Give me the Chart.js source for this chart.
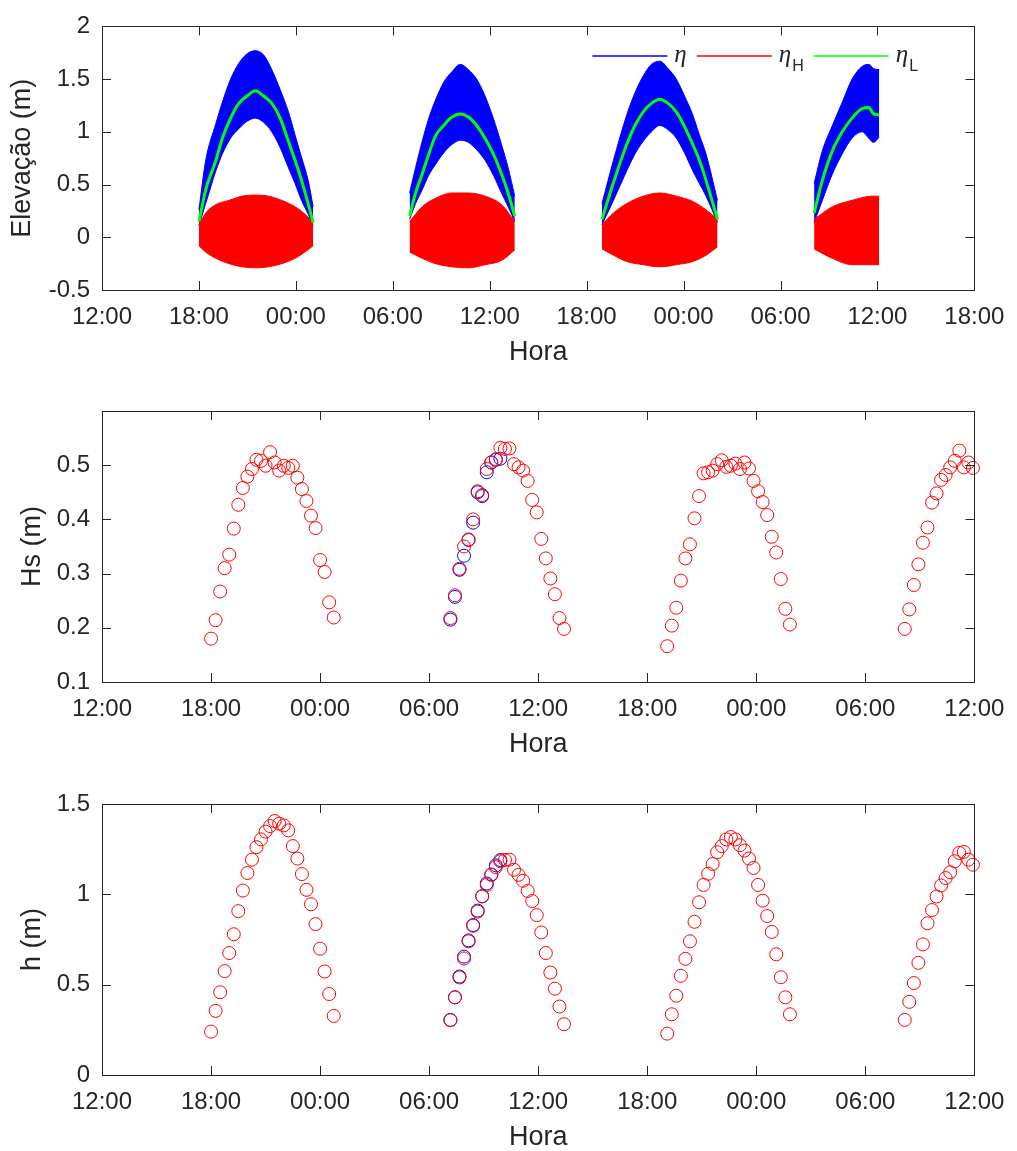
<!DOCTYPE html>
<html>
<head>
<meta charset="utf-8">
<script src="https://cdn.jsdelivr.net/npm/chart.js@4.4.0/dist/chart.umd.min.js"></script>
<style>
  html, body { margin: 0; padding: 0; background: #fff; width: 1017px; height: 1151px; overflow: hidden; }
  .panel { position: absolute; left: 0; width: 1017px; }
</style>
</head>
<body>
<div class="panel" style="top:0px"><canvas id="elevChart" width="1017" height="380"></canvas></div>
<div class="panel" style="top:380px"><canvas id="hsChart" width="1017" height="392"></canvas></div>
<div class="panel" style="top:770px"><canvas id="depthChart" width="1017" height="395"></canvas></div>
<script>
// x values are hours counted from 12:00 of the first day
const clockLabels = ['12:00', '18:00', '00:00', '06:00', '12:00', '18:00', '00:00', '06:00', '12:00', '18:00'];
const elevHours = [0, 6, 12, 18, 24, 30, 36, 42, 48, 54];
const waveHours = [0, 6, 12, 18, 24, 30, 36, 42, 48];
const elevTicks = [-0.5, 0, 0.5, 1, 1.5, 2];
const hsTicks = [0.1, 0.2, 0.3, 0.4, 0.5];
const depthTicks = [0, 0.5, 1, 1.5];

// top panel: eta band (blue) and eta_L (green), one row per tide window
const etaTime = [
  [6.00, 6.42, 7.05, 7.45, 7.96, 8.47, 8.98, 9.49, 10.00, 10.51, 11.03, 11.54, 11.95, 12.35, 12.76, 13.07],
  [19.04, 19.41, 19.82, 20.23, 20.64, 21.15, 21.66, 22.17, 22.68, 23.19, 23.71, 24.22, 24.73, 25.14, 25.55],
  [30.95, 31.66, 32.48, 32.99, 33.50, 34.01, 34.53, 35.04, 35.55, 36.06, 36.57, 36.98, 37.39, 38.10],
  [44.08, 44.59, 45.21, 45.82, 46.43, 47.05, 47.46, 47.76, 48.11]
];
const etaTop = [
  [0.26, 0.73, 1.08, 1.28, 1.50, 1.65, 1.74, 1.77, 1.73, 1.59, 1.40, 1.19, 0.97, 0.76, 0.54, 0.29],
  [0.42, 0.66, 0.91, 1.13, 1.30, 1.47, 1.57, 1.64, 1.59, 1.50, 1.34, 1.13, 0.88, 0.66, 0.39],
  [0.32, 0.73, 1.16, 1.37, 1.53, 1.64, 1.67, 1.60, 1.50, 1.34, 1.16, 0.97, 0.79, 0.35],
  [0.51, 0.82, 1.06, 1.28, 1.50, 1.62, 1.64, 1.60, 1.59]
];
const etaBottom = [
  [0.11, 0.32, 0.63, 0.79, 0.94, 1.03, 1.10, 1.13, 1.09, 1.00, 0.85, 0.66, 0.51, 0.35, 0.22, 0.11],
  [0.17, 0.32, 0.45, 0.59, 0.69, 0.80, 0.88, 0.92, 0.90, 0.83, 0.73, 0.59, 0.42, 0.29, 0.15],
  [0.12, 0.35, 0.63, 0.79, 0.91, 1.00, 1.06, 1.02, 0.94, 0.80, 0.63, 0.51, 0.39, 0.14],
  [0.14, 0.35, 0.60, 0.79, 0.94, 1.00, 0.94, 0.90, 0.95]
];
const etaLow = [
  [0.15, 0.45, 0.73, 0.94, 1.13, 1.27, 1.34, 1.39, 1.34, 1.27, 1.13, 0.91, 0.73, 0.54, 0.32, 0.14],
  [0.20, 0.42, 0.60, 0.79, 0.96, 1.06, 1.14, 1.17, 1.14, 1.06, 0.94, 0.79, 0.60, 0.42, 0.20],
  [0.17, 0.52, 0.88, 1.06, 1.19, 1.27, 1.31, 1.27, 1.19, 1.05, 0.88, 0.73, 0.54, 0.17],
  [0.23, 0.54, 0.82, 1.00, 1.13, 1.22, 1.23, 1.17, 1.16]
];
// eta_H band (red)
const etaHTime = [
  [6.00, 6.42, 7.05, 7.86, 8.67, 9.49, 10.31, 11.13, 11.95, 12.56, 13.07],
  [19.04, 19.82, 20.64, 21.66, 22.68, 23.71, 24.73, 25.55],
  [30.95, 31.66, 32.48, 33.50, 34.53, 35.55, 36.57, 37.39, 38.10],
  [44.08, 45.21, 46.43, 47.66, 48.11]
];
const etaHTop = [
  [0.12, 0.23, 0.31, 0.35, 0.39, 0.40, 0.39, 0.35, 0.29, 0.22, 0.14],
  [0.15, 0.29, 0.37, 0.42, 0.42, 0.39, 0.31, 0.15],
  [0.12, 0.23, 0.32, 0.39, 0.42, 0.39, 0.34, 0.26, 0.17],
  [0.17, 0.29, 0.35, 0.39, 0.39]
];
const etaHBottom = [
  [-0.08, -0.14, -0.20, -0.25, -0.28, -0.29, -0.28, -0.25, -0.20, -0.14, -0.08],
  [-0.14, -0.20, -0.25, -0.28, -0.29, -0.26, -0.22, -0.12],
  [-0.11, -0.17, -0.23, -0.26, -0.28, -0.26, -0.23, -0.17, -0.09],
  [-0.11, -0.20, -0.26, -0.26, -0.26]
];

// 15-minute estimates
const timeA = [6.00, 6.25, 6.50, 6.75, 7.00, 7.25, 7.50, 7.75, 8.00, 8.25, 8.50, 8.75, 9.00, 9.25, 9.50, 9.75, 10.00, 10.25, 10.50, 10.75, 11.00, 11.25, 11.50, 11.75, 12.00, 12.25, 12.50, 12.75];
const timeB = [19.17, 19.42, 19.67, 19.92, 20.17, 20.42, 20.67, 20.92, 21.17, 21.42, 21.67, 21.92, 22.17, 22.42, 22.67, 22.92, 23.17, 23.42, 23.67, 23.92, 24.17, 24.42, 24.67, 24.92, 25.17, 25.42];
const timeC = [31.10, 31.35, 31.60, 31.85, 32.10, 32.35, 32.60, 32.85, 33.10, 33.35, 33.60, 33.85, 34.10, 34.35, 34.60, 34.85, 35.10, 35.35, 35.60, 35.85, 36.10, 36.35, 36.60, 36.85, 37.10, 37.35, 37.60, 37.85];
const timeD = [44.17, 44.42, 44.67, 44.92, 45.17, 45.42, 45.67, 45.92, 46.17, 46.42, 46.67, 46.92, 47.17, 47.42, 47.67, 47.92];

const hsRedA = [0.180, 0.214, 0.267, 0.310, 0.335, 0.383, 0.427, 0.458, 0.479, 0.493, 0.510, 0.508, 0.499, 0.524, 0.505, 0.490, 0.499, 0.495, 0.499, 0.477, 0.456, 0.434, 0.407, 0.384, 0.325, 0.303, 0.247, 0.219];
const hsRedB = [0.218, 0.260, 0.309, 0.350, 0.363, 0.400, 0.452, 0.445, 0.493, 0.505, 0.511, 0.532, 0.530, 0.531, 0.502, 0.496, 0.490, 0.471, 0.436, 0.413, 0.364, 0.328, 0.291, 0.262, 0.218, 0.198];
const hsRedC = [0.166, 0.204, 0.237, 0.287, 0.328, 0.354, 0.402, 0.443, 0.485, 0.487, 0.490, 0.502, 0.509, 0.497, 0.499, 0.503, 0.493, 0.505, 0.494, 0.471, 0.452, 0.432, 0.408, 0.368, 0.339, 0.290, 0.235, 0.206];
const hsRedD = [0.198, 0.234, 0.279, 0.317, 0.357, 0.385, 0.431, 0.448, 0.473, 0.482, 0.496, 0.508, 0.527, 0.496, 0.505, 0.495];
const hsBlue = [0.215, 0.257, 0.307, 0.333, 0.362, 0.394, 0.450, 0.443, 0.487, 0.505, 0.510, 0.512];

const depthRedA = [0.240, 0.355, 0.458, 0.575, 0.675, 0.779, 0.907, 1.021, 1.118, 1.192, 1.261, 1.304, 1.347, 1.378, 1.406, 1.391, 1.382, 1.354, 1.267, 1.198, 1.112, 1.025, 0.945, 0.835, 0.699, 0.573, 0.448, 0.327];
const depthRedB = [0.303, 0.430, 0.540, 0.645, 0.740, 0.826, 0.904, 0.988, 1.052, 1.108, 1.150, 1.183, 1.190, 1.192, 1.136, 1.108, 1.075, 1.019, 0.963, 0.885, 0.789, 0.675, 0.567, 0.478, 0.379, 0.281];
const depthRedC = [0.229, 0.336, 0.439, 0.549, 0.643, 0.740, 0.848, 0.956, 1.052, 1.114, 1.168, 1.233, 1.267, 1.304, 1.317, 1.304, 1.272, 1.242, 1.198, 1.146, 1.052, 0.965, 0.880, 0.792, 0.668, 0.541, 0.430, 0.336];
const depthRedD = [0.305, 0.405, 0.509, 0.621, 0.723, 0.840, 0.913, 0.988, 1.049, 1.090, 1.122, 1.183, 1.229, 1.235, 1.192, 1.164];
const depthBlue = [0.305, 0.430, 0.545, 0.655, 0.745, 0.830, 0.910, 0.990, 1.060, 1.110, 1.160, 1.190];

const legendSymbols = ['η', 'η', 'η'];
const legendSubs = ['', 'H', 'L'];

const BLUE = '#0000ff';
const RED = '#ff0000';
const GREEN = '#00ff00';
const INK = '#262626';
const FONT = '"Liberation Sans", Arial, Helvetica, sans-serif';
const legendColors = [BLUE, RED, GREEN];

function zip(t, v) {
    return t.map((h, i) => ({ x: h, y: v[i] }));
}

// matlab style box with inward ticks on all four sides
const boxTicks = {
    id: 'boxTicks',
    afterDatasetsDraw(chart) {
        const { ctx, chartArea: a, scales: { x, y } } = chart;
        const len = 9;
        ctx.save();
        ctx.strokeStyle = INK;
        ctx.lineWidth = 1;
        ctx.beginPath();
        x.ticks.forEach(t => {
            const px = Math.round(x.getPixelForValue(t.value)) + 0.5;
            ctx.moveTo(px, a.bottom); ctx.lineTo(px, a.bottom - len);
            ctx.moveTo(px, a.top); ctx.lineTo(px, a.top + len);
        });
        y.ticks.forEach(t => {
            const py = Math.round(y.getPixelForValue(t.value)) + 0.5;
            ctx.moveTo(a.left, py); ctx.lineTo(a.left + len, py);
            ctx.moveTo(a.right, py); ctx.lineTo(a.right - len, py);
        });
        ctx.stroke();
        ctx.strokeRect(Math.round(a.left) + 0.5, Math.round(a.top) + 0.5,
            Math.round(a.right - a.left), Math.round(a.bottom - a.top));
        ctx.restore();
    }
};

const texLegend = {
    id: 'texLegend',
    afterDatasetsDraw(chart) {
        const { ctx, chartArea: a } = chart;
        let x = a.right - 382;
        const y = a.top + 29.5;
        ctx.save();
        ctx.textAlign = 'left';
        ctx.textBaseline = 'alphabetic';
        legendSymbols.forEach((sym, i) => {
            ctx.strokeStyle = legendColors[i];
            ctx.lineWidth = 1.5;
            ctx.beginPath();
            ctx.moveTo(x, y);
            ctx.lineTo(x + 75, y);
            ctx.stroke();
            x += 82;
            ctx.fillStyle = INK;
            ctx.font = 'italic 25px "Liberation Serif", "DejaVu Serif", serif';
            ctx.fillText(sym, x, y + 6);
            x += ctx.measureText(sym).width;
            if (legendSubs[i]) {
                ctx.font = '16px ' + FONT;
                ctx.fillText(legendSubs[i], x + 1, y + 15);
                x += ctx.measureText(legendSubs[i]).width + 1;
            }
            x += 10;
        });
        ctx.restore();
    }
};

function buildScales(opt) {
    return {
        x: {
            type: 'linear',
            min: 0,
            max: opt.xMax,
            grid: { display: false, drawTicks: false },
            border: { display: false },
            afterBuildTicks: s => { s.ticks = opt.xTicks.map(v => ({ value: v })); },
            afterFit: s => { s.height = 90; },
            ticks: {
                autoSkip: false, maxRotation: 0, padding: 12.6, color: INK,
                font: { family: FONT, size: 24 },
                callback: (v, i) => clockLabels[i]
            },
            title: {
                display: true, text: 'Hora', color: INK,
                font: { family: FONT, size: 27 },
                padding: { top: 0, bottom: 10.8 }
            }
        },
        y: {
            type: 'linear',
            min: opt.yMin,
            max: opt.yMax,
            grid: { display: false, drawTicks: false },
            border: { display: false },
            afterBuildTicks: s => { s.ticks = opt.yTicks.map(v => ({ value: v })); },
            afterFit: s => { s.width = 102; },
            ticks: {
                padding: 12, color: INK,
                font: { family: FONT, size: 24 },
                callback: v => String(v)
            },
            title: {
                display: true, text: opt.yTitle, color: INK,
                font: { family: FONT, size: 27 },
                padding: { top: opt.titlePad, bottom: 0 }
            }
        }
    };
}

function commonOptions(opt) {
    return {
        responsive: false,
        animation: false,
        events: [],
        layout: { padding: { top: opt.padTop, right: 35, left: 0, bottom: 0 } },
        plugins: { legend: { display: false }, tooltip: { enabled: false } },
        scales: buildScales(opt)
    };
}

// ELEVATION PANEL

const elevSets = [];
etaTime.forEach((t, b) => {
    elevSets.push({
        data: zip(t, etaTop[b]), borderColor: BLUE, backgroundColor: BLUE, borderWidth: 1,
        pointRadius: 0, fill: '+1', cubicInterpolationMode: 'monotone', order: 2
    });
    elevSets.push({
        data: zip(t, etaBottom[b]), borderColor: BLUE, backgroundColor: BLUE, borderWidth: 1,
        pointRadius: 0, fill: false, cubicInterpolationMode: 'monotone', order: 2
    });
});
etaHTime.forEach((t, b) => {
    elevSets.push({
        data: zip(t, etaHTop[b]), borderColor: RED, backgroundColor: RED, borderWidth: 1,
        pointRadius: 0, fill: '+1', cubicInterpolationMode: 'monotone', order: 1
    });
    elevSets.push({
        data: zip(t, etaHBottom[b]), borderColor: RED, backgroundColor: RED, borderWidth: 1,
        pointRadius: 0, fill: false, cubicInterpolationMode: 'monotone', order: 1
    });
});
etaTime.forEach((t, b) => {
    elevSets.push({
        data: zip(t, etaLow[b]), borderColor: GREEN, borderWidth: 3,
        pointRadius: 0, fill: false, cubicInterpolationMode: 'monotone', order: 0
    });
});

new Chart(document.getElementById('elevChart'), {
    type: 'line',
    data: { datasets: elevSets },
    options: commonOptions({
        padTop: 19, xMax: 54, xTicks: elevHours, yMin: -0.5, yMax: 2,
        yTicks: elevTicks, yTitle: 'Elevação (m)', titlePad: 6.8
    }),
    plugins: [boxTicks, texLegend]
});

// SCATTER PANELS

function rings(data, color, order) {
    return {
        data: data, borderColor: color, backgroundColor: 'rgba(0,0,0,0)',
        pointRadius: 6.5, pointBorderWidth: 1, borderWidth: 1,
        showLine: false, clip: false, order: order
    };
}

const redTimes = timeA.concat(timeB, timeC, timeD);
const blueTimes = timeB.slice(0, hsBlue.length);

new Chart(document.getElementById('hsChart'), {
    type: 'scatter',
    data: {
        datasets: [
            rings(zip(redTimes, hsRedA.concat(hsRedB, hsRedC, hsRedD)), RED, 0),
            rings(zip(blueTimes, hsBlue), BLUE, 1)
        ]
    },
    options: commonOptions({
        padTop: 31, xMax: 48, xTicks: waveHours, yMin: 0.1, yMax: 0.6,
        yTicks: hsTicks, yTitle: 'Hs (m)', titlePad: 16.3
    }),
    plugins: [boxTicks]
});

new Chart(document.getElementById('depthChart'), {
    type: 'scatter',
    data: {
        datasets: [
            rings(zip(redTimes, depthRedA.concat(depthRedB, depthRedC, depthRedD)), RED, 0),
            rings(zip(blueTimes, depthBlue), BLUE, 1)
        ]
    },
    options: commonOptions({
        padTop: 34, xMax: 48, xTicks: waveHours, yMin: 0, yMax: 1.5,
        yTicks: depthTicks, yTitle: 'h (m)', titlePad: 16.3
    }),
    plugins: [boxTicks]
});
</script>
</body>
</html>
